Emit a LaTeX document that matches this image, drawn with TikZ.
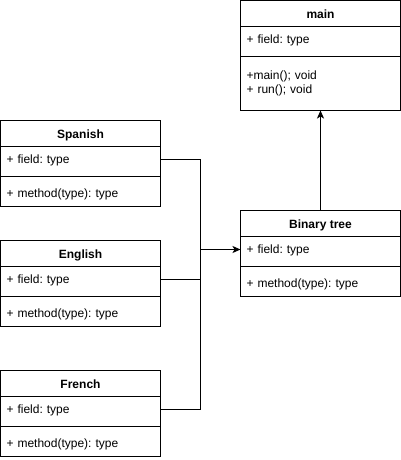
\documentclass[tikz,border=0pt]{standalone}
\usepackage{fontspec}
\setmainfont{Liberation Sans}
\frenchspacing
\usetikzlibrary{positioning,arrows.meta}

\tikzset{
  classtitle/.style={draw, outer sep=0pt, minimum width=160pt, minimum height=26pt,
    text height=12pt, text depth=2pt, font=\fontsize{12}{14}\selectfont\bfseries},
  classrow/.style={draw, outer sep=0pt, text width=148pt, inner xsep=6pt,
    minimum height=30pt, align=left, font=\fontsize{12}{14}\selectfont},
  fieldrow/.style={classrow, text height=9pt, text depth=5pt},
  methodrow/.style={classrow, text height=14pt, text depth=2pt},
}

\begin{document}
\begin{tikzpicture}[x=1pt, y=-1pt, line width=1pt, >={Stealth[length=8pt,width=7pt,inset=2pt]}]
  \useasboundingbox (0,0) rectangle (401,460);
  % main class
  \node[classtitle, anchor=north] (main) at (320.5,0.5) {main};
  \node[fieldrow, below=0pt of main] (main-f) {+ field: type};
  \node[classrow, below=0pt of main-f, minimum height=54pt] (main-m) {+main(); void\\+ run(); void\par\vspace{10pt}};
  % languages
  \foreach \cls/\lang/\top in {spanish/Spanish/120.5, english/English/240.5, french/French/370.5} {
    \node[classtitle, anchor=north] (\cls) at (80.5,\top) {\lang};
    \node[fieldrow, below=0pt of \cls] (\cls-f) {+ field: type};
    \node[methodrow, below=0pt of \cls-f] (\cls-m) {+ method(type): type};
  }
  % binary tree
  \node[classtitle, anchor=north] (tree) at (320.5,210.5) {Binary tree};
  \node[fieldrow, below=0pt of tree] (tree-f) {+ field: type};
  \node[methodrow, below=0pt of tree-f] (tree-m) {+ method(type): type};

  \coordinate (bus) at ([xshift=-40pt,yshift=2pt]tree-f.west);
  \draw ([yshift=2pt]spanish-f.east) -| (bus);
  \draw ([yshift=2pt]english-f.east) -| (bus);
  \draw ([yshift=2pt]french-f.east) -| (bus);
  \draw [->] (bus) -- ([yshift=2pt]tree-f.west);
  \draw [->] (tree.north) -- (main-m.south);
\end{tikzpicture}
\end{document}
